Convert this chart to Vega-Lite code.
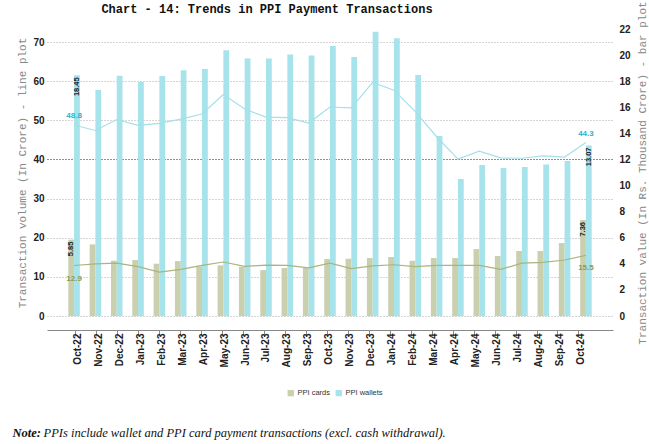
{
  "$schema": "https://vega.github.io/schema/vega-lite/v6.json",
  "autosize": {"type": "none"},
  "width": 566,
  "height": 287,
  "padding": {"left": 47, "top": 29, "right": 36, "bottom": 128},
  "background": "white",
  "config": {"view": {"stroke": null}},
  "title": {
    "text": "Chart - 14: Trends in PPI Payment Transactions",
    "font": "Liberation Mono",
    "fontSize": 12,
    "fontWeight": "bold",
    "color": "#111",
    "anchor": "middle",
    "frame": "group",
    "dx": -63,
    "dy": 31,
    "offset": 16
  },
  "data": {
    "values": [
      {"month": "Oct-22", "date": "2022-10-15", "series": "PPI cards", "value": 5.85, "volume": 12.9},
      {"month": "Oct-22", "date": "2022-10-15", "series": "PPI wallets", "value": 18.45, "volume": 48.8},
      {"month": "Nov-22", "date": "2022-11-15", "series": "PPI cards", "value": 5.49, "volume": 13.3},
      {"month": "Nov-22", "date": "2022-11-15", "series": "PPI wallets", "value": 17.32, "volume": 47.4},
      {"month": "Dec-22", "date": "2022-12-15", "series": "PPI cards", "value": 4.24, "volume": 13.5},
      {"month": "Dec-22", "date": "2022-12-15", "series": "PPI wallets", "value": 18.42, "volume": 50.2},
      {"month": "Jan-23", "date": "2023-01-15", "series": "PPI cards", "value": 4.29, "volume": 12.6},
      {"month": "Jan-23", "date": "2023-01-15", "series": "PPI wallets", "value": 17.93, "volume": 48.7},
      {"month": "Feb-23", "date": "2023-02-15", "series": "PPI cards", "value": 4.01, "volume": 11.2},
      {"month": "Feb-23", "date": "2023-02-15", "series": "PPI wallets", "value": 18.39, "volume": 49.2},
      {"month": "Mar-23", "date": "2023-03-15", "series": "PPI cards", "value": 4.21, "volume": 11.9},
      {"month": "Mar-23", "date": "2023-03-15", "series": "PPI wallets", "value": 18.83, "volume": 50.3},
      {"month": "Apr-23", "date": "2023-04-15", "series": "PPI cards", "value": 3.80, "volume": 12.95},
      {"month": "Apr-23", "date": "2023-04-15", "series": "PPI wallets", "value": 18.93, "volume": 51.6},
      {"month": "May-23", "date": "2023-05-15", "series": "PPI cards", "value": 3.88, "volume": 13.8},
      {"month": "May-23", "date": "2023-05-15", "series": "PPI wallets", "value": 20.38, "volume": 56.6},
      {"month": "Jun-23", "date": "2023-06-15", "series": "PPI cards", "value": 3.78, "volume": 12.7},
      {"month": "Jun-23", "date": "2023-06-15", "series": "PPI wallets", "value": 19.74, "volume": 52.9},
      {"month": "Jul-23", "date": "2023-07-15", "series": "PPI cards", "value": 3.52, "volume": 13.0},
      {"month": "Jul-23", "date": "2023-07-15", "series": "PPI wallets", "value": 19.74, "volume": 50.8},
      {"month": "Aug-23", "date": "2023-08-15", "series": "PPI cards", "value": 3.68, "volume": 12.95},
      {"month": "Aug-23", "date": "2023-08-15", "series": "PPI wallets", "value": 20.05, "volume": 50.7},
      {"month": "Sep-23", "date": "2023-09-15", "series": "PPI cards", "value": 3.70, "volume": 12.3},
      {"month": "Sep-23", "date": "2023-09-15", "series": "PPI wallets", "value": 19.97, "volume": 49.3},
      {"month": "Oct-23", "date": "2023-10-15", "series": "PPI cards", "value": 4.37, "volume": 13.5},
      {"month": "Oct-23", "date": "2023-10-15", "series": "PPI wallets", "value": 20.69, "volume": 53.4},
      {"month": "Nov-23", "date": "2023-11-15", "series": "PPI cards", "value": 4.39, "volume": 12.1},
      {"month": "Nov-23", "date": "2023-11-15", "series": "PPI wallets", "value": 19.85, "volume": 53.2},
      {"month": "Dec-23", "date": "2023-12-15", "series": "PPI cards", "value": 4.44, "volume": 12.8},
      {"month": "Dec-23", "date": "2023-12-15", "series": "PPI wallets", "value": 21.79, "volume": 59.7},
      {"month": "Jan-24", "date": "2024-01-15", "series": "PPI cards", "value": 4.52, "volume": 13.1},
      {"month": "Jan-24", "date": "2024-01-15", "series": "PPI wallets", "value": 21.30, "volume": 57.7},
      {"month": "Feb-24", "date": "2024-02-15", "series": "PPI cards", "value": 4.24, "volume": 12.6},
      {"month": "Feb-24", "date": "2024-02-15", "series": "PPI wallets", "value": 18.47, "volume": 52.2},
      {"month": "Mar-24", "date": "2024-03-15", "series": "PPI cards", "value": 4.44, "volume": 12.95},
      {"month": "Mar-24", "date": "2024-03-15", "series": "PPI wallets", "value": 13.79, "volume": 45.8},
      {"month": "Apr-24", "date": "2024-04-15", "series": "PPI cards", "value": 4.44, "volume": 12.95},
      {"month": "Apr-24", "date": "2024-04-15", "series": "PPI wallets", "value": 10.50, "volume": 40.1},
      {"month": "May-24", "date": "2024-05-15", "series": "PPI cards", "value": 5.13, "volume": 12.95},
      {"month": "May-24", "date": "2024-05-15", "series": "PPI wallets", "value": 11.57, "volume": 42.1},
      {"month": "Jun-24", "date": "2024-06-15", "series": "PPI cards", "value": 4.60, "volume": 11.9},
      {"month": "Jun-24", "date": "2024-06-15", "series": "PPI wallets", "value": 11.34, "volume": 40.4},
      {"month": "Jul-24", "date": "2024-07-15", "series": "PPI cards", "value": 4.98, "volume": 13.5},
      {"month": "Jul-24", "date": "2024-07-15", "series": "PPI wallets", "value": 11.42, "volume": 40.3},
      {"month": "Aug-24", "date": "2024-08-15", "series": "PPI cards", "value": 4.98, "volume": 13.7},
      {"month": "Aug-24", "date": "2024-08-15", "series": "PPI wallets", "value": 11.62, "volume": 40.9},
      {"month": "Sep-24", "date": "2024-09-15", "series": "PPI cards", "value": 5.59, "volume": 14.3},
      {"month": "Sep-24", "date": "2024-09-15", "series": "PPI wallets", "value": 11.88, "volume": 40.6},
      {"month": "Oct-24", "date": "2024-10-15", "series": "PPI cards", "value": 7.36, "volume": 15.5},
      {"month": "Oct-24", "date": "2024-10-15", "series": "PPI wallets", "value": 13.07, "volume": 44.3}
    ]
  },
  "layer": [
    {
      "transform": [{"filter": {"field": "series", "equal": "PPI cards"}}],
      "mark": {"type": "rule", "opacity": 0},
      "encoding": {
        "x": {
          "field": "date", "timeUnit": "yearmonth", "type": "ordinal",
          "scale": {"type": "band", "paddingInner": 0, "paddingOuter": 1.3725, "align": 0.4375},
          "axis": {
            "orient": "bottom", "offset": 14, "format": "%b-%y", "formatType": "time",
            "labelAngle": -90, "labelFont": "Liberation Sans", "labelFontWeight": "bold",
            "labelFontSize": 10, "labelColor": "#222", "labelPadding": -3, "labelOffset": 2,
            "tickSize": 6, "tickColor": "#888", "domainColor": "#888",
            "grid": false,
            "title": "Note:", "titleFont": "Liberation Serif", "titleFontStyle": "italic",
            "titleFontWeight": "bold", "titleFontSize": 12.5, "titleColor": "#111",
            "titleX": -35, "titleY": 106, "titleAlign": "left", "titleBaseline": "alphabetic", "titleAngle": 0
          }
        }
      }
    },
    {
      "layer": [
        {
          "mark": {"type": "bar"},
          "encoding": {
            "x": {
              "field": "date", "timeUnit": "yearmonth", "type": "ordinal",
              "scale": {"type": "band", "paddingInner": 0.46, "paddingOuter": 1.15},
              "axis": null
            },
            "xOffset": {"field": "series", "type": "nominal", "scale": {"domain": ["PPI cards", "PPI wallets"]}},
            "y": {
              "field": "value", "type": "quantitative",
              "scale": {"domain": [0, 22], "nice": false},
              "axis": {
                "orient": "right", "values": [0, 2, 4, 6, 8, 10, 12, 14, 16, 18, 20, 22],
                "grid": false, "domain": false, "ticks": false, "labelPadding": 6,
                "labelFont": "Liberation Sans", "labelFontWeight": "bold", "labelFontSize": 10, "labelColor": "#222",
                "title": "Transaction value (In Rs. Thousand Crore) - bar plot",
                "titleFont": "Liberation Mono", "titleFontSize": 11, "titleFontWeight": "normal",
                "titleColor": "#888", "titleAngle": -90, "titlePadding": 17
              }
            },
            "color": {
              "field": "series", "type": "nominal",
              "scale": {"domain": ["PPI cards", "PPI wallets"], "range": ["#c9d0ad", "#a6e3ea"]},
              "legend": {
                "orient": "none", "legendX": 240, "legendY": 360, "direction": "horizontal",
                "title": null, "symbolType": "square", "symbolSize": 40, "symbolStrokeWidth": 0,
                "labelFont": "Liberation Sans", "labelFontSize": 7.5, "labelColor": "#333",
                "columnPadding": 4, "labelOffset": 3
              }
            }
          }
        },
        {
          "transform": [{"filter": {"field": "month", "oneOf": ["Oct-22", "Oct-24"]}}],
          "mark": {"type": "text", "angle": 270, "align": "right", "baseline": "middle", "dx": -2,
                   "font": "Liberation Sans", "fontSize": 7.5, "fontWeight": "bold", "color": "#222"},
          "encoding": {
            "x": {"field": "date", "timeUnit": "yearmonth", "type": "ordinal", "axis": null},
            "xOffset": {"field": "series", "type": "nominal", "scale": {"domain": ["PPI cards", "PPI wallets"]}},
            "y": {"field": "value", "type": "quantitative", "scale": {"domain": [0, 22], "nice": false}, "axis": null},
            "text": {"field": "value", "type": "quantitative", "format": ".2f"}
          }
        },
        {
          "mark": {"type": "line", "strokeWidth": 1.2},
          "encoding": {
            "x": {
              "field": "date", "timeUnit": "yearmonth", "type": "ordinal",
              "axis": {
                "orient": "bottom", "labels": false, "ticks": false, "domain": false, "grid": false,
                "title": "PPIs include wallet and PPI card payment transactions (excl. cash withdrawal).",
                "titleFont": "Liberation Serif", "titleFontStyle": "italic", "titleFontWeight": "normal",
                "titleFontSize": 12.5, "titleColor": "#111",
                "titleX": -4, "titleY": 120, "titleAlign": "left", "titleBaseline": "alphabetic", "titleAngle": 0
              }
            },
            "y": {
              "field": "volume", "type": "quantitative",
              "scale": {"domain": [0, 73.33], "nice": false},
              "axis": {
                "orient": "left", "values": [0, 10, 20, 30, 40, 50, 60, 70],
                "grid": true, "gridDash": [1, 2],
                "gridColor": {"condition": {"test": "datum.value === 40", "value": "#222"}, "value": "#aaa"},
                "domain": false, "ticks": false, "labelPadding": 3,
                "labelFont": "Liberation Sans", "labelFontWeight": "bold", "labelFontSize": 10, "labelColor": "#222",
                "title": "Transaction volume (In Crore) - line plot",
                "titleFont": "Liberation Mono", "titleFontSize": 11, "titleFontWeight": "normal",
                "titleColor": "#888", "titlePadding": 5
              }
            },
            "stroke": {
              "field": "series", "type": "nominal",
              "scale": {"domain": ["PPI cards", "PPI wallets"], "range": ["#aab47f", "#a3e1e9"]},
              "legend": null
            }
          }
        },
        {
          "transform": [
            {"filter": {"field": "month", "oneOf": ["Oct-22", "Oct-24"]}},
            {"filter": {"field": "series", "equal": "PPI wallets"}}
          ],
          "mark": {"type": "text", "dy": -9, "align": "center", "baseline": "middle",
                   "font": "Liberation Sans", "fontSize": 8, "fontWeight": "bold", "color": "#1fb6c7"},
          "encoding": {
            "x": {"field": "date", "timeUnit": "yearmonth", "type": "ordinal", "axis": null},
            "y": {"field": "volume", "type": "quantitative", "scale": {"domain": [0, 73.33], "nice": false}, "axis": null},
            "text": {"field": "volume", "type": "quantitative", "format": ".1f"}
          }
        },
        {
          "transform": [
            {"filter": {"field": "month", "oneOf": ["Oct-22", "Oct-24"]}},
            {"filter": {"field": "series", "equal": "PPI cards"}}
          ],
          "mark": {"type": "text", "dy": 13, "align": "center", "baseline": "middle",
                   "font": "Liberation Sans", "fontSize": 8, "fontWeight": "bold", "color": "#8d9b55"},
          "encoding": {
            "x": {"field": "date", "timeUnit": "yearmonth", "type": "ordinal", "axis": null},
            "y": {"field": "volume", "type": "quantitative", "scale": {"domain": [0, 73.33], "nice": false}, "axis": null},
            "text": {"field": "volume", "type": "quantitative", "format": ".1f"}
          }
        }
      ],
      "resolve": {
        "scale": {"y": "independent"},
        "axis": {"x": "independent", "y": "independent"}
      }
    }
  ],
  "resolve": {
    "scale": {"x": "independent", "y": "independent"},
    "axis": {"x": "independent", "y": "independent"}
  }
}
